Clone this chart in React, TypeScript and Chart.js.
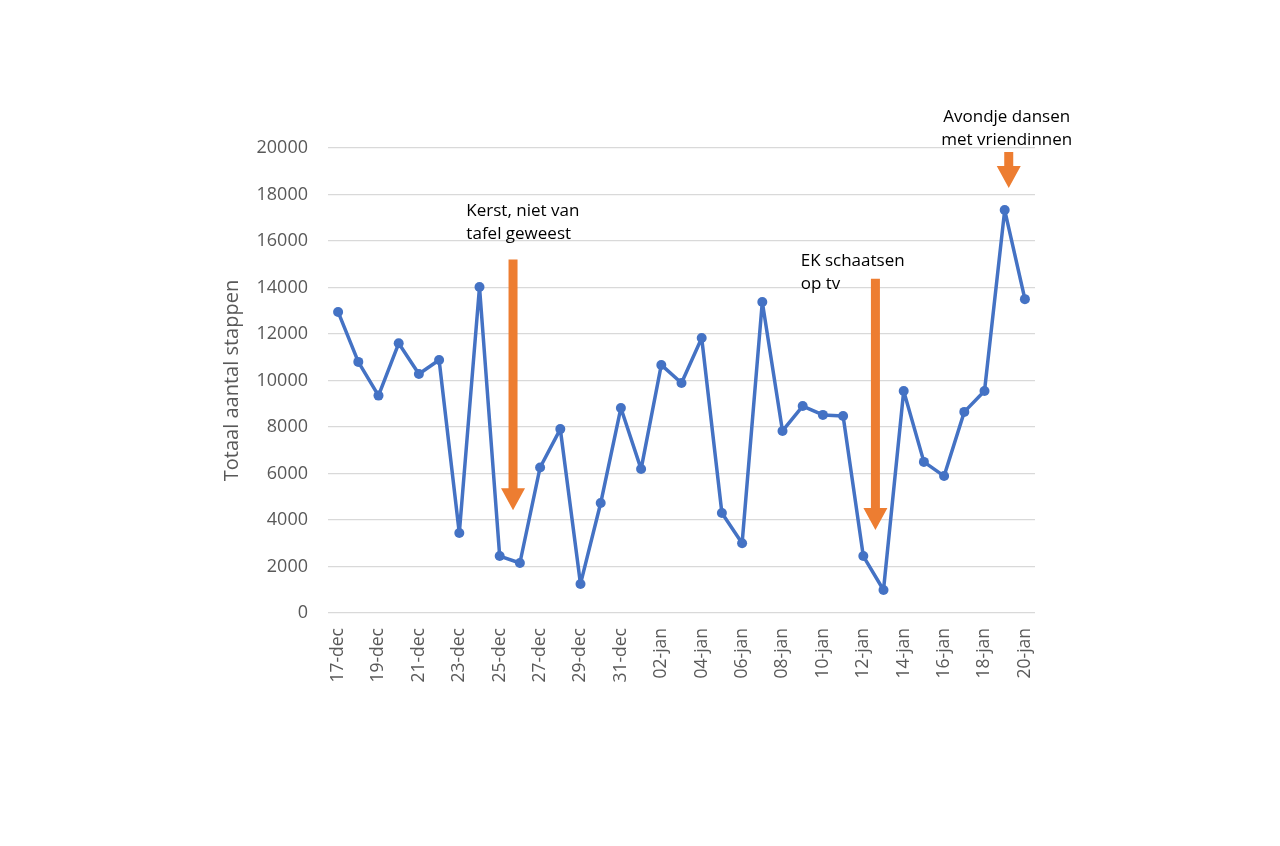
import React, { useEffect, useRef } from "react";
import { Chart, registerables } from "chart.js";

Chart.register(...registerables);

const dates = [
  "17-dec", "18-dec", "19-dec", "20-dec", "21-dec", "22-dec", "23-dec", "24-dec", "25-dec",
  "26-dec", "27-dec", "28-dec", "29-dec", "30-dec", "31-dec", "01-jan", "02-jan", "03-jan",
  "04-jan", "05-jan", "06-jan", "07-jan", "08-jan", "09-jan", "10-jan", "11-jan", "12-jan",
  "13-jan", "14-jan", "15-jan", "16-jan", "17-jan", "18-jan", "19-jan", "20-jan",
];

const steps = [
  12950, 10800, 9350, 11600, 10280, 10880, 3440, 14020, 2450,
  2150, 6260, 7910, 1250, 4730, 8820, 6190, 10670, 9890,
  11830, 4300, 3000, 13380, 7830, 8900, 8520, 8470, 2450,
  990, 9550, 6500, 5890, 8650, 9550, 17330, 13500,
];

// Annotation arrows: x as fractional category index, from / to in steps
const arrowX = [8.66, 26.6, 33.2];
const arrowFrom = [15200, 14380, 19830];
const arrowTo = [4420, 3570, 18280];

// Annotation texts: anchor x index, y value of first line, alignment
const noteLines = [
  ["Kerst, niet van", "tafel geweest"],
  ["EK schaatsen", "op tv"],
  ["Avondje dansen", "met vriendinnen"],
];
const noteX = [6.35, 22.9, 33.1];
const noteY = [17300, 15150, 21330];
const noteAlign: CanvasTextAlign[] = ["left", "left", "center"];

const annotationPlugin = {
  id: "notes",
  afterDatasetsDraw(chart: any) {
    const { ctx, scales } = chart;
    const xs = scales.x;
    const ys = scales.y;
    const step = xs.getPixelForValue(1) - xs.getPixelForValue(0);
    const px = (v: number) => xs.getPixelForValue(0) + v * step;
    ctx.save();
    ctx.fillStyle = "#ED7D31";
    for (let i = 0; i < arrowX.length; i++) {
      const x = px(arrowX[i]);
      const y0 = ys.getPixelForValue(arrowFrom[i]);
      const y1 = ys.getPixelForValue(arrowTo[i]);
      const headLen = 22;
      const headW = 12;
      const shaftW = 4.5;
      ctx.beginPath();
      ctx.moveTo(x - shaftW, y0);
      ctx.lineTo(x + shaftW, y0);
      ctx.lineTo(x + shaftW, y1 - headLen);
      ctx.lineTo(x + headW, y1 - headLen);
      ctx.lineTo(x, y1);
      ctx.lineTo(x - headW, y1 - headLen);
      ctx.lineTo(x - shaftW, y1 - headLen);
      ctx.closePath();
      ctx.fill();
    }
    ctx.fillStyle = "#000000";
    ctx.font = "17px 'Open Sans'";
    ctx.textBaseline = "middle";
    for (let i = 0; i < noteLines.length; i++) {
      ctx.textAlign = noteAlign[i];
      const x = px(noteX[i]);
      const y = ys.getPixelForValue(noteY[i]);
      noteLines[i].forEach((line, j) => ctx.fillText(line, x, y + j * 23));
    }
    ctx.restore();
  },
};

export default function App() {
  const ref = useRef<HTMLCanvasElement | null>(null);
  useEffect(() => {
    if (!ref.current) return;
    const chart = new Chart(ref.current, {
      type: "line",
      data: {
        labels: dates,
        datasets: [
          {
            data: steps,
            borderColor: "#4472C4",
            backgroundColor: "#4472C4",
            borderWidth: 3.5,
            borderJoinStyle: "round",
            borderCapStyle: "round",
            pointRadius: 5,
            pointBorderWidth: 0,
            pointBackgroundColor: "#4472C4",
            tension: 0,
          },
        ],
      },
      options: {
        animation: false,
        responsive: true,
        maintainAspectRatio: false,
        layout: { padding: { left: 220, right: 245, top: 148, bottom: 133 } },
        plugins: { legend: { display: false }, tooltip: { enabled: false } },
        scales: {
          x: {
            offset: true,
            grid: { display: false },
            border: { display: false },
            ticks: {
              autoSkip: false,
              minRotation: 90,
              maxRotation: 90,
              padding: 7,
              color: "#595959",
              font: { family: "'Open Sans'", size: 17.5 },
              callback: (_v: any, i: number) => (i % 2 === 0 ? dates[i] : ""),
            },
            afterFit: (s: any) => {
              s.height = 100;
            },
          },
          y: {
            min: 0,
            max: 20000,
            ticks: {
              stepSize: 2000,
              padding: 20,
              color: "#595959",
              font: { family: "'Open Sans'", size: 18 },
              callback: (v: any) => String(v),
            },
            grid: { color: "#D9D9D9", lineWidth: 1.3, drawTicks: false },
            border: { display: false },
            title: {
              display: true,
              text: "Totaal aantal stappen",
              color: "#595959",
              font: { family: "'Open Sans'", size: 20 },
              padding: 0,
            },
            afterFit: (s: any) => {
              s.width = 108;
            },
          },
        },
      },
      plugins: [annotationPlugin],
    });
    return () => chart.destroy();
  }, []);
  return (
    <div style={{ position: "fixed", left: 0, top: 0, width: 1280, height: 846, background: "#fff" }}>
      <canvas ref={ref} />
    </div>
  );
}
